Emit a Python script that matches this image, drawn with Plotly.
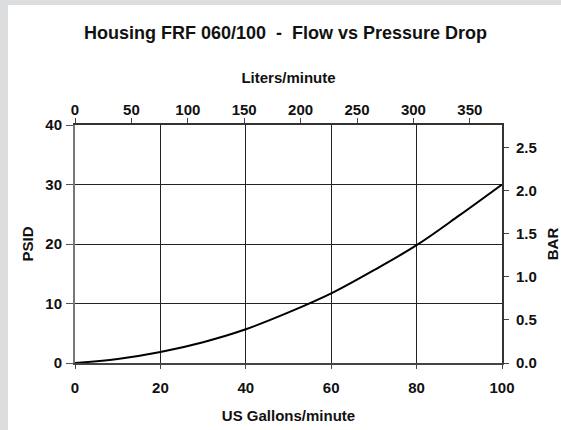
import plotly.graph_objects as go

# Data (US gallons/minute vs PSID)
gpm = [0, 10, 20, 30, 40, 50, 60, 70, 80, 90, 100]
psid = [0, 0.67, 1.85, 3.5, 5.67, 8.5, 11.7, 15.6, 19.8, 24.8, 30.0]

LPM_PER_GPM = 3.78541
BAR_PER_PSI = 0.0689476

bottom_ticks = [0, 20, 40, 60, 80, 100]
left_ticks = [0, 10, 20, 30, 40]
top_ticks = [0, 50, 100, 150, 200, 250, 300, 350]
right_ticks = [0.0, 0.5, 1.0, 1.5, 2.0, 2.5]

title_text = "Housing FRF 060/100\u00a0\u00a0-\u00a0\u00a0Flow vs Pressure Drop"

FONT = "Liberation Sans, Arial, sans-serif"
tickfont = dict(family=FONT, size=15, color="#111111")
titlefont = dict(family=FONT, size=15, color="#111111")

# figure occupies the white panel; page body (gray) shows a strip left and top
OFF_X, OFF_Y = 8, 5
W, H = 561 - OFF_X, 430 - OFF_Y

fig = go.Figure()
fig.add_trace(go.Scatter(
    x=gpm, y=psid, mode="lines", line=dict(color="black", width=2, shape="spline"),
    hoverinfo="x+y", showlegend=False, xaxis="x", yaxis="y"))
# invisible trace on secondary axes (same curve in metric units)
fig.add_trace(go.Scatter(
    x=[g * LPM_PER_GPM for g in gpm], y=[p * BAR_PER_PSI for p in psid],
    mode="lines", line=dict(width=0, color="rgba(0,0,0,0)"), hoverinfo="skip",
    showlegend=False, xaxis="x2", yaxis="y2"))

fig.update_layout(
    width=W, height=H,
    margin=dict(l=75 - OFF_X, r=59, t=125 - OFF_Y, b=67),
    paper_bgcolor="white", plot_bgcolor="white",
    title=dict(text="<b>" + title_text + "</b>", x=(285.5 - 75) / 427, xref="paper",
               xanchor="center", y=1 - (33 - OFF_Y) / H, yanchor="middle",
               font=dict(family=FONT, size=18, color="#111111")),
    xaxis=dict(range=[0, 100], tickvals=bottom_ticks,
               ticktext=["<b>%d</b>" % v for v in bottom_ticks],
               tickfont=tickfont, ticks="outside", ticklen=4, tickcolor="#444444",
               ticklabelstandoff=6, automargin=False,
               showgrid=True, gridcolor="#222222", gridwidth=1,
               showline=True, linecolor="#444444", linewidth=2, mirror=False,
               zeroline=False,
               title=dict(text="<b>US Gallons/minute</b>", font=titlefont, standoff=15)),
    yaxis=dict(range=[0, 40], tickvals=left_ticks,
               ticktext=["<b>%d</b>" % v for v in left_ticks],
               tickfont=tickfont, ticks="outside", ticklen=7, tickcolor="#555555",
               ticklabelstandoff=1, automargin=False,
               showgrid=True, gridcolor="#222222", gridwidth=1,
               showline=True, linecolor="#777777", linewidth=2,
               zeroline=False,
               title=dict(text="<b>PSID</b>", font=titlefont, standoff=8)),
    xaxis2=dict(range=[0, 100 * LPM_PER_GPM], tickvals=top_ticks,
                ticktext=["<b>%d</b>" % v for v in top_ticks],
                overlaying="x", side="top", anchor="y",
                tickfont=tickfont, ticks="outside", ticklen=5, tickcolor="#444444",
                ticklabelstandoff=-3, automargin=False,
                showgrid=False, showline=True, linecolor="#333333", linewidth=2,
                zeroline=False,
                title=dict(text="<b>Liters/minute</b>", font=titlefont, standoff=14)),
    yaxis2=dict(range=[0, 40 * BAR_PER_PSI], tickvals=right_ticks,
                ticktext=["<b>%.1f</b>" % v for v in right_ticks],
                overlaying="y", side="right", anchor="x",
                tickfont=tickfont, ticks="outside", ticklen=5, tickcolor="#444444",
                ticklabelstandoff=4, automargin=False,
                showgrid=False, showline=True, linecolor="#333333", linewidth=2,
                zeroline=False,
                title=dict(text="<b>BAR</b>", font=titlefont, standoff=13)),
)

fig.write_html("out.html", config={"displayModeBar": False},
               post_script="document.body.style.margin='%dpx 0 0 %dpx';"
                           "document.body.style.background='#dcdddf';" % (OFF_Y, OFF_X))
